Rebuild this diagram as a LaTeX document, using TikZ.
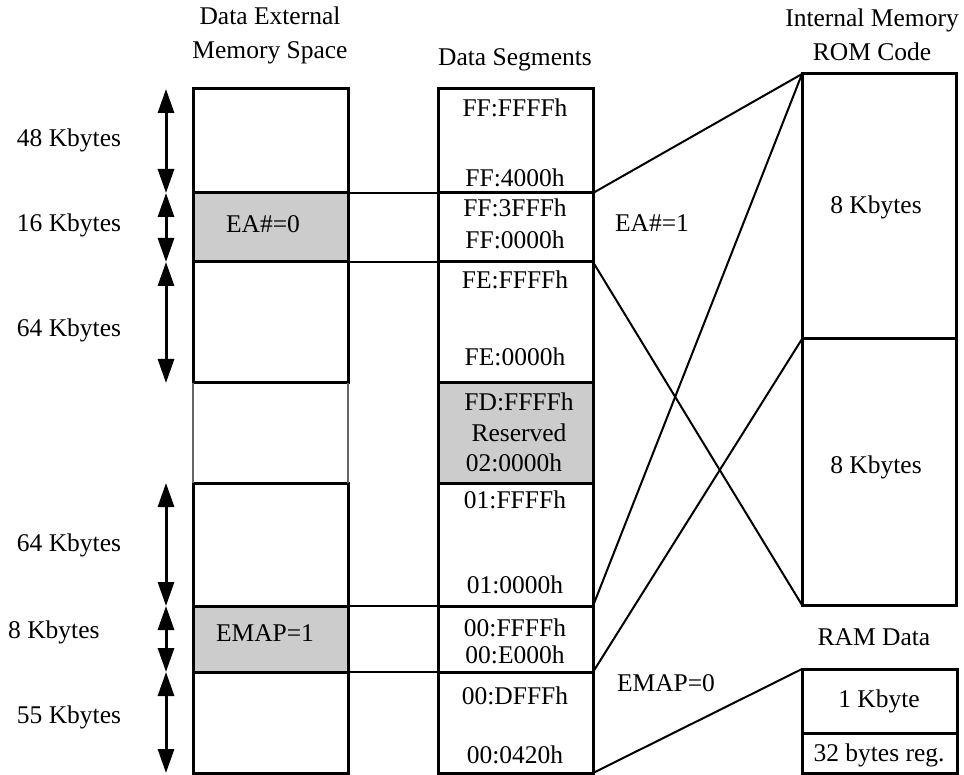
\documentclass[tikz,border=0pt]{standalone}
\usepackage{fontspec}
\setmainfont{Liberation Serif}
\usetikzlibrary{arrows.meta}
\begin{document}
\begin{tikzpicture}[x=1pt,y=-1pt,
  cell/.style={draw, line width=3pt, minimum width=155pt, inner sep=0pt, outer sep=0pt, anchor=north west},
  gapcell/.style={minimum width=155pt, inner sep=0pt, outer sep=0pt, anchor=north west},
  shaded/.style={fill=black!20},
  txt/.style={font=\fontsize{25.5}{34}\selectfont, inner sep=0pt, align=center},
  link/.style={line width=2pt},
  thinedge/.style={line width=1.5pt, draw=black!60},
  dim/.style={line width=3pt, {Triangle[length=24pt,width=16pt]}-{Triangle[length=24pt,width=16pt]}}]
\useasboundingbox (0,0) rectangle (964,775);

% left column
\node[cell, minimum height=104pt] (L1) at (193,89) {};
\node[cell, shaded, minimum height=69pt] (L2) at (193,193) {};
\node[cell, minimum height=121pt] (L3) at (193,262) {};
\node[gapcell, minimum height=100pt] (L4) at (193,383) {};
\node[cell, minimum height=123pt] (L5) at (193,483) {};
\node[cell, shaded, minimum height=66pt] (L6) at (193,606) {};
\node[cell, minimum height=101pt] (L7) at (193,672) {};
\draw[thinedge] (L4.north west) -- (L4.south west);
\draw[thinedge] (L4.north east) -- (L4.south east);

% middle column
\node[cell, minimum height=104pt] (M1) at (438,89) {};
\node[cell, minimum height=69pt] (M2) at (438,193) {};
\node[cell, minimum height=121pt] (M3) at (438,262) {};
\node[cell, shaded, minimum height=100pt] (M4) at (438,383) {};
\node[cell, minimum height=123pt] (M5) at (438,483) {};
\node[cell, minimum height=66pt] (M6) at (438,606) {};
\node[cell, minimum height=101pt] (M7) at (438,672) {};

% right column
\node[cell, minimum width=154pt, minimum height=265pt] (R1) at (802,74) {};
\node[cell, minimum width=154pt, minimum height=266pt] (R2) at (802,339) {};
\node[cell, minimum width=155pt, minimum height=64pt] (A1) at (802,669) {};
\node[cell, minimum width=155pt, minimum height=40pt] (A2) at (802,733) {};

% headings
\node[txt] (h1) at (270,35) {Data External\\Memory Space};
\node[txt] (h2) at (515,60) {Data Segments};
\node[txt] (h3) at (872,35) {Internal Memory\\ROM Code};
\node[txt] (h4) at (874,637) {RAM Data};

% left size labels
\node[txt] (s1) at (69,140) {48 Kbytes};
\node[txt] (s2) at (69,225) {16 Kbytes};
\node[txt] (s3) at (69,330) {64 Kbytes};
\node[txt] (s4) at (69,545) {64 Kbytes};
\node[txt, anchor=west] (s5) at (8,632) {8 Kbytes};
\node[txt] (s6) at (69,717) {55 Kbytes};

% size arrows
\coordinate (a0) at (166,89);
\coordinate (a1) at (166,193);
\coordinate (a2) at (166,262);
\coordinate (a3) at (166,383);
\coordinate (a4) at (166,483);
\coordinate (a5) at (166,606);
\coordinate (a6) at (166,672);
\coordinate (a7) at (166,773);
\draw[dim] (a0) -- (a1);
\draw[dim] (a1) -- (a2);
\draw[dim] (a2) -- (a3);
\draw[dim] (a4) -- (a5);
\draw[dim] (a5) -- (a6);
\draw[dim] (a6) -- (a7);

% left column texts
\node[txt] (t1) at (263,224) {EA\#=0};
\node[txt] (t2) at (265,633) {EMAP=1};

% middle column texts
\node[txt] (m1a) at (515,108) {FF:FFFFh};
\node[txt] (m1b) at (515,178) {FF:4000h};
\node[txt] (m2a) at (515,208) {FF:3FFFh};
\node[txt] (m2b) at (515,240) {FF:0000h};
\node[txt] (m3a) at (515,280) {FE:FFFFh};
\node[txt] (m3b) at (515,357) {FE:0000h};
\node[txt] (m4a) at (519,402) {FD:FFFFh};
\node[txt] (m4b) at (519,433) {Reserved};
\node[txt] (m4c) at (514,463) {02:0000h};
\node[txt] (m5a) at (515,500) {01:FFFFh};
\node[txt] (m5b) at (515,585) {01:0000h};
\node[txt] (m6a) at (515,628) {00:FFFFh};
\node[txt] (m6b) at (515,655) {00:E000h};
\node[txt] (m7a) at (515,696) {00:DFFFh};
\node[txt] (m7b) at (515,755) {00:0420h};

% right column texts
\node[txt] (r1) at (876,207) {8 Kbytes};
\node[txt] (r2) at (876,467) {8 Kbytes};
\node[txt] (r3) at (879,701) {1 Kbyte};
\node[txt] (r4) at (879,755) {32 bytes reg.};

% condition labels
\node[txt] (c1) at (652,223) {EA\#=1};
\node[txt] (c2) at (666,683) {EMAP=0};

% connectors left to middle
\draw[link] (L2.north east) -- (M2.north west);
\draw[link] (L2.south east) -- (M2.south west);
\draw[link] (L6.north east) -- (M6.north west);
\draw[link] (L6.south east) -- (M6.south west);

% connectors middle to right
\draw[link] (M1.south east) -- (R1.north west);
\draw[link] (M2.south east) -- (R2.south west);
\draw[link] (M5.south east) -- (R1.north west);
\draw[link] (M6.south east) -- (R1.south west);
\draw[link] (M7.south east) -- (A1.north west);
\end{tikzpicture}
\end{document}
